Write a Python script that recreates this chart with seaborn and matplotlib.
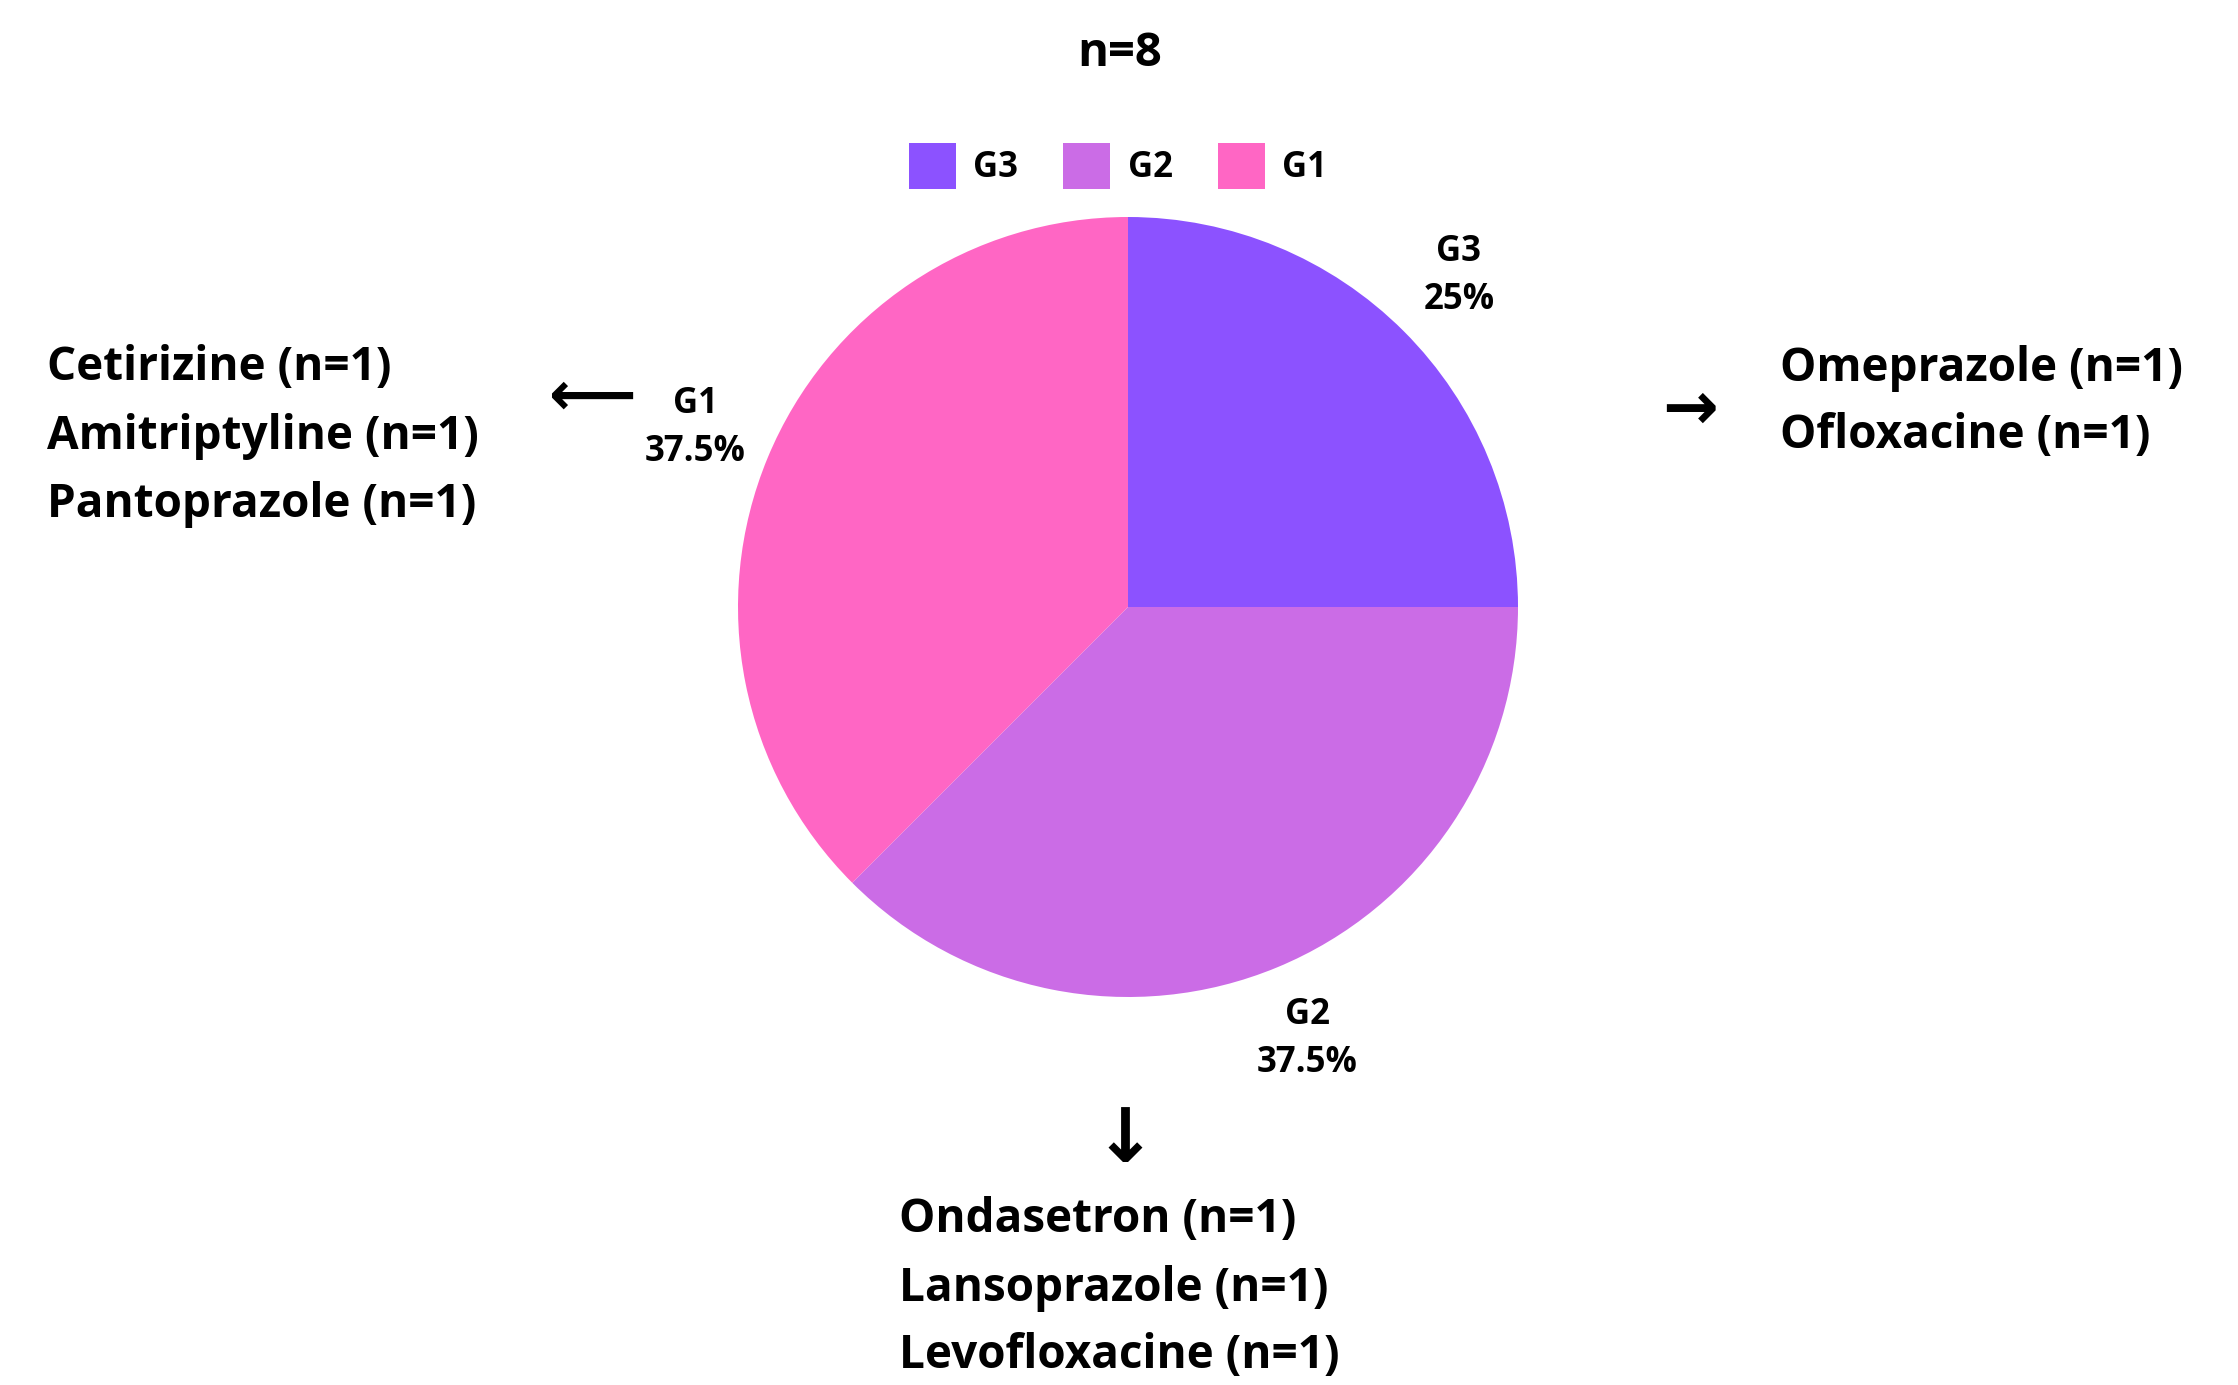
import matplotlib
matplotlib.use("Agg")
import matplotlib.pyplot as plt
from matplotlib.patches import Patch
import seaborn as sns

# Severity groups and number of drugs in each
groups = ["G3", "G2", "G1"]
counts = [2, 3, 3]
colors = ["#8C52FF", "#CB6CE6", "#FF66C4"]

# Drugs behind each group
drugs_g1 = ["Cetirizine (n=1)", "Amitriptyline (n=1)", "Pantoprazole (n=1)"]
drugs_g2 = ["Ondasetron (n=1)", "Lansoprazole (n=1)", "Levofloxacine (n=1)"]
drugs_g3 = ["Omeprazole (n=1)", "Ofloxacine (n=1)"]

sns.set_theme(style="white")
plt.rcParams["font.family"] = ["Open Sans", "DejaVu Sans"]
plt.rcParams["text.color"] = "black"

W, H = 2238, 1385
fig = plt.figure(figsize=(W / 100, H / 100), dpi=100)
fig.patch.set_facecolor("white")


def px(x, y):
    return x / W, 1 - y / H


# Pie axes: centre (1128, 607), radius 390 px
cx, cy, r = 1128, 607, 390
ax = fig.add_axes([(cx - r) / W, (H - cy - r) / H, 2 * r / W, 2 * r / H])
total = sum(counts)
labels = [f"{g}\n{c / total * 100:g}%" for g, c in zip(groups, counts)]
wedges, texts = ax.pie(counts, colors=colors, startangle=90, counterclock=False,
                       labels=labels, labeldistance=1.2,
                       wedgeprops=dict(linewidth=0))
for t in texts:
    t.set_fontsize(25)
    t.set_fontweight("bold")
    t.set_color("black")
    t.set_horizontalalignment("center")
    t.set_verticalalignment("center")
    t.set_linespacing(1.45)
ax.set_xlim(-1, 1)
ax.set_ylim(-1, 1)
ax.set_aspect("equal")
ax.axis("off")

# Sample size
fig.text(*px(1120, 54), "n=8", ha="center", va="center", fontsize=34,
         fontweight="bold", color="black")

# Legend
handles = [Patch(facecolor=c, edgecolor="none", label=g) for g, c in zip(groups, colors)]
leg = fig.legend(handles=handles, loc="center", bbox_to_anchor=px(1118, 166), ncol=3,
                 frameon=False, prop=dict(size=25, weight="bold"),
                 handlelength=1.35, handleheight=1.7, handletextpad=0.5,
                 columnspacing=1.3)
for t in leg.get_texts():
    t.set_color("black")

# Drug lists
line_h = 68
list_style = dict(ha="left", va="center", fontsize=33, fontweight="bold", color="black")
for i, d in enumerate(drugs_g1):
    fig.text(*px(47, 368 + i * line_h), d, **list_style)
for i, d in enumerate(drugs_g3):
    fig.text(*px(1780, 368 + i * line_h), d, **list_style)
for i, d in enumerate(drugs_g2):
    fig.text(*px(899, 1220 + i * line_h), d, **list_style)

# Arrows from the labels to their drug lists
arrow_style = dict(ha="center", va="center", family="DejaVu Sans", fontweight="bold",
                   color="black")
fig.text(*px(592, 398), "\u27f5", fontsize=44, **arrow_style)
fig.text(*px(1690, 410), "\u2192", fontsize=48, **arrow_style)
fig.text(*px(1125, 1142), "\u2193", fontsize=54, **arrow_style)

fig.savefig("out.png", dpi=100, facecolor="white")
